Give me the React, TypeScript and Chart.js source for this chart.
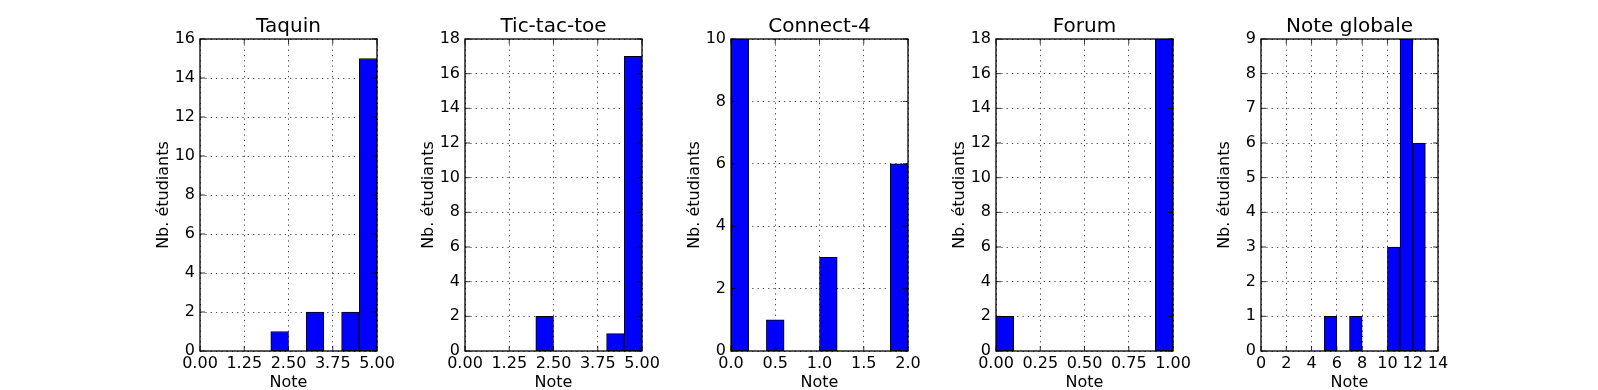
import React, { useEffect, useRef } from "react";
import { Chart, registerables } from "chart.js";

Chart.register(...registerables);

// ---- Data ----
const titles = ["Taquin", "Tic-tac-toe", "Connect-4", "Forum", "Note globale"];

const taquinEdges = [0, 0.5, 1, 1.5, 2, 2.5, 3, 3.5, 4, 4.5, 5];
const taquinCounts = [0, 0, 0, 0, 1, 0, 2, 0, 2, 15];
const taquinXTicks = ["0.00", "1.25", "2.50", "3.75", "5.00"];

const ticTacToeEdges = [0, 0.5, 1, 1.5, 2, 2.5, 3, 3.5, 4, 4.5, 5];
const ticTacToeCounts = [0, 0, 0, 0, 2, 0, 0, 0, 1, 17];
const ticTacToeXTicks = ["0.00", "1.25", "2.50", "3.75", "5.00"];

const connect4Edges = [0, 0.2, 0.4, 0.6, 0.8, 1.0, 1.2, 1.4, 1.6, 1.8, 2.0];
const connect4Counts = [10, 0, 1, 0, 0, 3, 0, 0, 0, 6];
const connect4XTicks = ["0.0", "0.5", "1.0", "1.5", "2.0"];

const forumEdges = [0, 0.1, 0.2, 0.3, 0.4, 0.5, 0.6, 0.7, 0.8, 0.9, 1.0];
const forumCounts = [2, 0, 0, 0, 0, 0, 0, 0, 0, 18];
const forumXTicks = ["0.00", "0.25", "0.50", "0.75", "1.00"];

const globaleEdges = [0, 1, 2, 3, 4, 5, 6, 7, 8, 9, 10, 11, 12, 13];
const globaleCounts = [0, 0, 0, 0, 0, 1, 0, 1, 0, 0, 3, 9, 6];
const globaleXTicks = ["0", "2", "4", "6", "8", "10", "12", "14"];

const xMaxes = [5, 5, 2, 1, 14];
const xSteps = [1.25, 1.25, 0.5, 0.25, 2];
const yMaxes = [16, 18, 10, 18, 9];
const ySteps = [2, 2, 2, 2, 1];

const xLabel = "Note";
const yLabel = "Nb. étudiants";

const edgesList = [taquinEdges, ticTacToeEdges, connect4Edges, forumEdges, globaleEdges];
const countsList = [taquinCounts, ticTacToeCounts, connect4Counts, forumCounts, globaleCounts];
const xTickList = [taquinXTicks, ticTacToeXTicks, connect4XTicks, forumXTicks, globaleXTicks];

// ---- Layout ----
const FIG_W = 1598;
const FIG_H = 390;
const PLOT_LEFTS = [200, 465, 731, 996, 1261];
const PLOT_W = 177;
const Y_AXIS_W = 60;
const PAD_RIGHT = 30;
const FONT = "'DejaVu Sans', sans-serif";

const framePlugin = {
  id: "mplFrame",
  afterDatasetsDraw(chart: any) {
    const { ctx, chartArea } = chart;
    const { left, right, top, bottom } = chartArea;
    const xs = chart.scales.x;
    const ys = chart.scales.y;
    ctx.save();
    ctx.strokeStyle = "#000";
    ctx.lineWidth = 0.8;
    const tl = 5;
    ctx.beginPath();
    xs.ticks.forEach((t: any) => {
      const px = xs.getPixelForValue(t.value);
      ctx.moveTo(px, bottom);
      ctx.lineTo(px, bottom - tl);
      ctx.moveTo(px, top);
      ctx.lineTo(px, top + tl);
    });
    ys.ticks.forEach((t: any) => {
      const py = ys.getPixelForValue(t.value);
      ctx.moveTo(left, py);
      ctx.lineTo(left + tl, py);
      ctx.moveTo(right, py);
      ctx.lineTo(right - tl, py);
    });
    ctx.stroke();
    ctx.lineWidth = 1.3;
    ctx.strokeRect(left, top, right - left, bottom - top);
    ctx.restore();
  },
};

function Panel({ idx }: { idx: number }) {
  const ref = useRef<HTMLCanvasElement | null>(null);
  useEffect(() => {
    if (!ref.current) return;
    const edges = edgesList[idx];
    const counts = countsList[idx];
    const data = counts.map((c, i) => ({ x: (edges[i] + edges[i + 1]) / 2, y: c }));
    const tickLabels = xTickList[idx];
    const chart = new Chart(ref.current, {
      type: "bar",
      data: {
        datasets: [
          {
            data,
            backgroundColor: "#0000ff",
            borderColor: "#000000",
            borderWidth: 1,
            borderSkipped: false,
            barPercentage: 1,
            categoryPercentage: 1,
            grouped: false,
          } as any,
        ],
      },
      options: {
        animation: false,
        responsive: false,
        devicePixelRatio: 1,
        layout: { padding: { left: 0, right: PAD_RIGHT, top: 0, bottom: 0 } },
        plugins: {
          legend: { display: false },
          tooltip: { enabled: false },
          title: {
            display: true,
            text: titles[idx],
            fullSize: false,
            color: "#000",
            font: { family: FONT, size: 20, weight: "normal", lineHeight: 1.2 },
            padding: { top: 15, bottom: 0 },
          },
        },
        scales: {
          x: {
            type: "linear",
            min: 0,
            max: xMaxes[idx],
            offset: false,
            afterFit: (s: any) => {
              s.height = 39;
            },
            grid: { color: "#000", lineWidth: 0.7, drawTicks: false, offset: false },
            border: { display: false, dash: [1.3, 4] },
            ticks: {
              stepSize: xSteps[idx],
              padding: 3,
              color: "#000",
              font: { family: FONT, size: 16 },
              maxRotation: 0,
              autoSkip: false,
              callback: (_v: any, i: number) => tickLabels[i],
            },
            title: {
              display: true,
              text: xLabel,
              color: "#000",
              font: { family: FONT, size: 16 },
              padding: { top: 0, bottom: -2 },
            },
          },
          y: {
            type: "linear",
            min: 0,
            max: yMaxes[idx],
            afterFit: (s: any) => {
              s.width = Y_AXIS_W;
            },
            grid: { color: "#000", lineWidth: 0.7, drawTicks: false },
            border: { display: false, dash: [1.3, 4] },
            ticks: {
              stepSize: ySteps[idx],
              padding: 5,
              color: "#000",
              font: { family: FONT, size: 16 },
            },
            title: {
              display: true,
              text: yLabel,
              color: "#000",
              font: { family: FONT, size: 16 },
              padding: { top: 14, bottom: 0 },
            },
          },
        },
      } as any,
      plugins: [framePlugin],
    });
    return () => chart.destroy();
  }, [idx]);

  const w = Y_AXIS_W + PLOT_W + PAD_RIGHT;
  return (
    <canvas
      ref={ref}
      width={w}
      height={FIG_H}
      style={{
        position: "absolute",
        left: PLOT_LEFTS[idx] - Y_AXIS_W,
        top: 0,
        width: w,
        height: FIG_H,
      }}
    />
  );
}

export default function App() {
  return (
    <div
      style={{
        position: "absolute",
        left: 0,
        top: 0,
        width: FIG_W,
        height: FIG_H,
        background: "#fff",
      }}
    >
      {titles.map((_, i) => (
        <Panel key={i} idx={i} />
      ))}
    </div>
  );
}
